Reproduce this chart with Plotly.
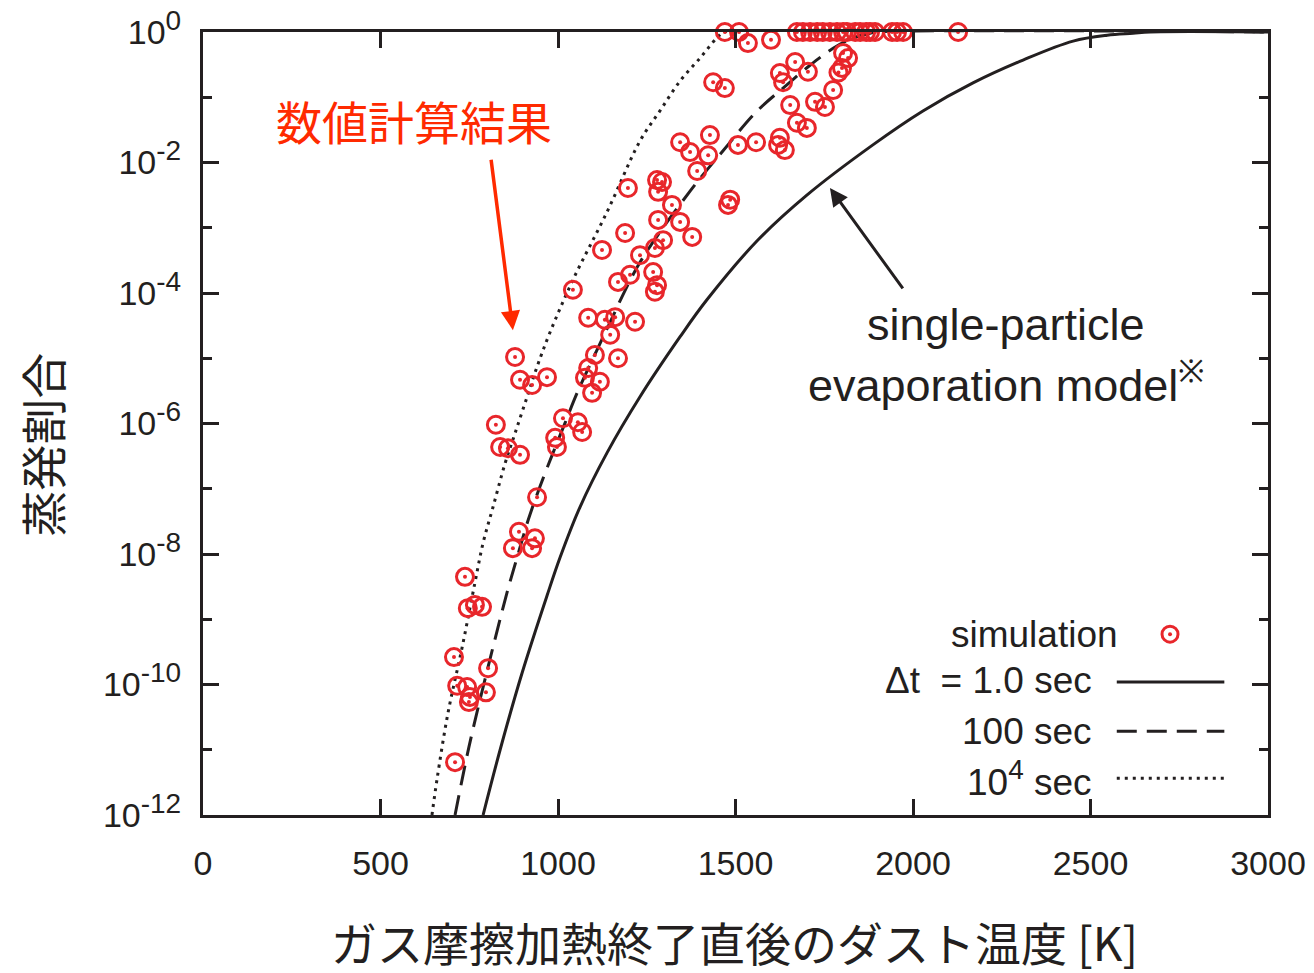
import plotly.graph_objects as go

# ---------------- data ----------------
# simulation points: temperature [K] and log10 of evaporated fraction
sim_T = [1470, 1510, 1673, 1690, 1710, 1730, 1746, 1766, 1786, 1803, 1814, 1837,
         1851, 1868, 1879, 1893, 1941, 1955, 1972, 2127,
         1535, 1600, 1803, 1817, 1800, 1790, 1668, 1704, 1625, 1634, 1437, 1470,
         1775, 1654, 1724, 1752, 1673, 1701, 1428, 1344, 1372, 1507, 1558, 1625,
         1620, 1639, 1423, 1392, 1279, 1293, 1197, 1282, 1321, 1485, 1479, 1282,
         1344, 1378, 1189, 1296, 1273, 1124, 1231, 1268, 1203, 1169, 1279, 1273,
         1042, 1085, 1132, 1161, 1217, 1147, 1104, 1169, 879, 1085, 1076, 1118,
         1096, 893, 927, 969, 1014, 1056, 1068, 992, 997, 825, 837, 859, 893,
         941, 890, 935, 873, 927, 738, 746, 766, 786, 707, 803, 716, 744, 752,
         749, 797, 710]
sim_logf = [0, 0, 0, 0, 0, 0, 0, 0, 0, 0, 0, 0,
            0, 0, 0, 0, 0, 0, 0, 0,
            -0.17, -0.12, -0.32, -0.40, -0.55, -0.62, -0.46, -0.61, -0.63, -0.77, -0.77, -0.86,
            -0.89, -1.12, -1.07, -1.15, -1.39, -1.47, -1.58, -1.69, -1.84, -1.73, -1.69, -1.62,
            -1.73, -1.81, -1.89, -2.13, -2.27, -2.30, -2.39, -2.45, -2.65, -2.57, -2.65, -2.88,
            -2.91, -3.14, -3.08, -3.19, -3.31, -3.34, -3.42, -3.68, -3.72, -3.83, -3.88, -3.98,
            -3.95, -4.38, -4.41, -4.37, -4.44, -4.64, -4.95, -5.00, -4.98, -5.15, -5.30, -5.36,
            -5.53, -5.33, -5.41, -5.29, -5.92, -5.98, -6.13, -6.22, -6.36, -6.02, -6.36, -6.38, -6.48,
            -7.13, -7.66, -7.76, -7.91, -7.91, -8.35, -8.83, -8.78, -8.81, -9.58, -9.75, -10.02, -10.04, -10.19,
            -10.27, -10.12, -11.19]

# single-particle evaporation model curves (log10 of fraction)
m1_T = [789, 837, 899, 969, 1006, 1062, 1138, 1231, 1344, 1420, 1561, 1701, 1887,
        2028, 2169, 2310, 2451, 2547, 2620, 2668, 3000]
m1_logf = [-12.0, -11.0, -9.82, -8.64, -8.05, -7.28, -6.45, -5.59, -4.67, -4.10, -3.20, -2.50,
           -1.73, -1.21, -0.78, -0.43, -0.14, -0.05, -0.02, 0.0, 0.0]

m100_T = [710, 749, 794, 856, 885, 916, 949, 986, 1020, 1054, 1110, 1138, 1231, 1372, 1465,
          1561, 1634, 1710, 1775, 1831, 1879, 1900, 3000]
m100_logf = [-12.0, -10.96, -9.93, -8.60, -8.05, -7.48, -6.97, -6.45, -5.99, -5.53, -4.87, -4.55,
             -3.53, -2.44, -1.82, -1.21, -0.86, -0.51, -0.25, -0.09, -0.02, 0.0, 0.0]

m1e4_T = [645, 659, 690, 730, 766, 789, 817, 851, 879, 913, 941, 977, 1042, 1138, 1231, 1287,
          1344, 1400, 1448, 1470, 3000]
m1e4_logf = [-12.0, -11.46, -10.44, -9.43, -8.44, -7.83, -7.28, -6.61, -6.15, -5.59, -5.13, -4.61,
             -3.80, -2.76, -1.67, -1.21, -0.75, -0.40, -0.09, 0.0, 0.0]

x_ticks = [0, 500, 1000, 1500, 2000, 2500, 3000]
y_major_exp = [0, -2, -4, -6, -8, -10, -12]
y_minor_exp = [-1, -3, -5, -7, -9, -11]

# ---------------- style ----------------
INK = "#231f20"
RED = "#e8262b"
ANN_RED = "#ff2a00"
LAT = "Liberation Sans, Arial, sans-serif"
JP = "Noto Sans CJK JP, sans-serif"

def sup(s, px=28):
    return '<sup><span style="font-size:%dpx">%s</span></sup>' % (px, s)

fig = go.Figure()

def curve(T, lf, dash, name):
    fig.add_trace(go.Scatter(
        x=T, y=[10 ** v for v in lf], mode="lines", name=name,
        line=dict(color=INK, width=3, dash=dash, shape="spline", smoothing=1.0),
        showlegend=False))

curve(m1_T, m1_logf, "solid", "Δt = 1.0 sec")
curve(m100_T, m100_logf, "20px,10px", "100 sec")
curve(m1e4_T, m1e4_logf, "3px,5px", "10^4 sec")

sim_y = [10 ** v for v in sim_logf]
fig.add_trace(go.Scatter(
    x=sim_T, y=sim_y, mode="markers", name="simulation",
    marker=dict(symbol="circle-open", size=17, color=RED, line=dict(width=3, color=RED)),
    cliponaxis=False, showlegend=False))
fig.add_trace(go.Scatter(
    x=sim_T, y=sim_y, mode="markers", name="simulation centre", hoverinfo="skip",
    marker=dict(symbol="circle", size=4, color=RED, line=dict(width=0)),
    cliponaxis=False, showlegend=False))

fig.update_layout(
    width=1314, height=973,
    margin=dict(l=203, r=46, t=32, b=158, autoexpand=False),
    paper_bgcolor="white", plot_bgcolor="white",
    font=dict(family=LAT, color=INK, size=34),
    xaxis=dict(range=[0, 3000], tickvals=x_ticks, ticktext=[str(v) for v in x_ticks],
               ticks="inside", ticklen=16, tickwidth=2.5, tickcolor=INK,
               showline=True, linewidth=3, linecolor=INK, mirror="ticks",
               showgrid=False, zeroline=False, ticklabelstandoff=16,
               ticklabeloverflow="allow", automargin=False,
               tickfont=dict(size=34, family=LAT, color=INK)),
    yaxis=dict(type="log", range=[-12, 0],
               tickvals=[10 ** e for e in y_major_exp],
               ticktext=["10" + sup(str(e)) for e in y_major_exp],
               ticks="inside", ticklen=16, tickwidth=2.5, tickcolor=INK,
               minor=dict(tickvals=[10 ** e for e in y_minor_exp], ticks="inside",
                          ticklen=9, tickwidth=2.5, tickcolor=INK, showgrid=False),
               showline=True, linewidth=3, linecolor=INK, mirror="ticks",
               showgrid=False, zeroline=False, ticklabelstandoff=12,
               ticklabeloverflow="allow", automargin=False,
               tickfont=dict(size=34, family=LAT, color=INK)),
    showlegend=False,
)

ann = []
# axis titles
ann.append(dict(text="ガス摩擦加熱終了直後のダスト温度 [K]", xref="paper", yref="paper",
                x=0.499, y=-0.161, showarrow=False, font=dict(family=JP, size=46, color=INK),
                xanchor="center", yanchor="middle"))
ann.append(dict(text="蒸発割合", xref="paper", yref="paper", x=-0.152, y=0.473,
                textangle=-90, showarrow=False, font=dict(family=JP, size=46, color=INK),
                xanchor="center", yanchor="middle"))
# red label with arrow
ann.append(dict(text="数値計算結果", xref="paper", yref="paper", x=0.198, y=0.888,
                showarrow=False, font=dict(family=JP, size=46, color=ANN_RED),
                xanchor="center", yanchor="middle"))
ann.append(dict(x=873, y=-4.57, xref="x", yref="y", ax=-22, ay=-172, text="",
                showarrow=True, arrowhead=2, arrowsize=1.1, arrowwidth=3.5, arrowcolor=ANN_RED))
# model label with arrow
ann.append(dict(text="single-particle", xref="paper", yref="paper", x=0.754, y=0.626,
                showarrow=False, font=dict(family=LAT, size=45, color=INK),
                xanchor="center", yanchor="middle"))
ann.append(dict(text="evaporation model<sup>※</sup>", xref="paper", yref="paper", x=0.754, y=0.553,
                showarrow=False, font=dict(family=LAT, size=45, color=INK),
                xanchor="center", yanchor="middle"))
ann.append(dict(x=1766, y=-2.39, xref="x", yref="y", ax=74, ay=102, text="",
                showarrow=True, arrowhead=2, arrowsize=1.2, arrowwidth=3, arrowcolor=INK))
# legend text
leg_font = dict(family=LAT, size=37, color=INK)
ann.append(dict(text="simulation", xref="paper", yref="paper", x=0.861, y=0.230,
                showarrow=False, font=leg_font, xanchor="right", yanchor="middle"))
ann.append(dict(text="Δt\u00a0\u00a0= 1.0 sec", xref="paper", yref="paper", x=0.837, y=0.172,
                showarrow=False, font=leg_font, xanchor="right", yanchor="middle"))
ann.append(dict(text="100 sec", xref="paper", yref="paper", x=0.837, y=0.107,
                showarrow=False, font=leg_font, xanchor="right", yanchor="middle"))
ann.append(dict(text="10" + sup("4", 28) + " sec", xref="paper", yref="paper", x=0.837, y=0.046,
                showarrow=False, font=leg_font, xanchor="right", yanchor="middle"))
fig.update_layout(annotations=ann)

# legend samples
shapes = []
shapes.append(dict(type="line", xref="paper", yref="paper", x0=0.858, x1=0.959, y0=0.170, y1=0.170,
                   line=dict(color=INK, width=3)))
shapes.append(dict(type="line", xref="paper", yref="paper", x0=0.858, x1=0.959, y0=0.107, y1=0.107,
                   line=dict(color=INK, width=3, dash="20px,10px")))
shapes.append(dict(type="line", xref="paper", yref="paper", x0=0.858, x1=0.959, y0=0.047, y1=0.047,
                   line=dict(color=INK, width=3, dash="3px,5px")))
shapes.append(dict(type="circle", xref="paper", yref="paper", xsizemode="pixel", ysizemode="pixel",
                   xanchor=0.908, yanchor=0.231, x0=-8, x1=8, y0=-8, y1=8,
                   line=dict(color=RED, width=3)))
shapes.append(dict(type="circle", xref="paper", yref="paper", xsizemode="pixel", ysizemode="pixel",
                   xanchor=0.908, yanchor=0.231, x0=-2, x1=2, y0=-2, y1=2,
                   fillcolor=RED, line=dict(color=RED, width=0)))
fig.update_layout(shapes=shapes)

fig.write_html("out.html", config={"displayModeBar": False},
               post_script="document.body.style.margin='0';")
